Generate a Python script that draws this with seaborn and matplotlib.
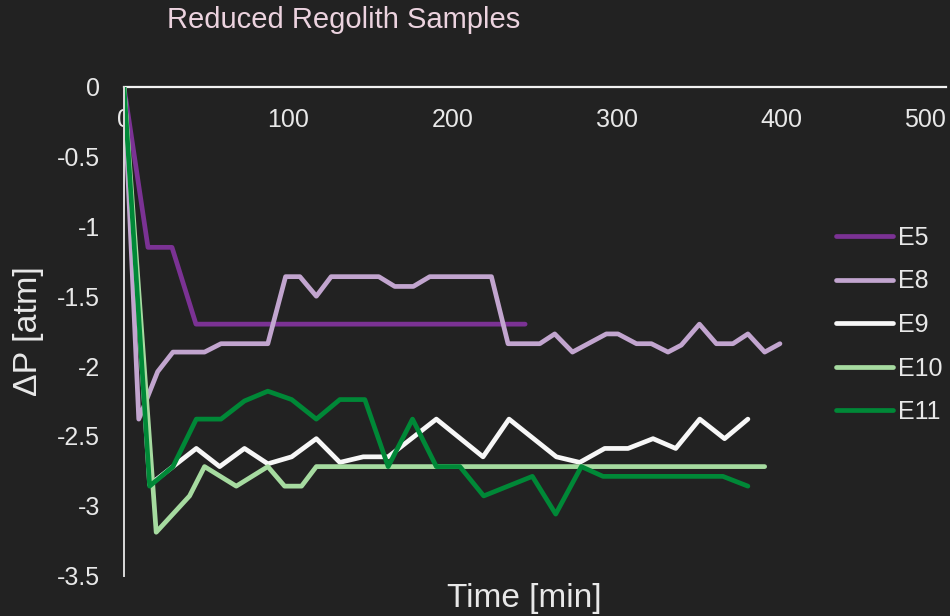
import matplotlib
matplotlib.use("Agg")
import matplotlib.pyplot as plt
import pandas as pd
import seaborn as sns

# Pressure drop in the sealed chamber for each reduced regolith sample
e5_t = [0, 14.6, 29.2, 43.8, 244]
e5_p = [0, -1.15, -1.15, -1.70, -1.70]

e8_t = [0, 9, 20.5, 29.8, 49, 59, 87.5, 98.3, 107, 117, 126, 155, 164.7, 176, 186,
        223.5, 233.6, 252.9, 262, 272.8, 293.4, 300.5, 311.7, 320.8, 330.9, 339,
        350, 360.3, 370.4, 379.5, 389.7, 399]
e8_p = [0, -2.38, -2.04, -1.90, -1.90, -1.84, -1.84, -1.36, -1.36, -1.50, -1.36,
        -1.36, -1.43, -1.43, -1.36, -1.36, -1.84, -1.84, -1.77, -1.90, -1.77, -1.77,
        -1.84, -1.84, -1.90, -1.85, -1.70, -1.84, -1.84, -1.77, -1.90, -1.84]

e9_t = [0, 15.6, 29.8, 44, 58.2, 73.3, 87.5, 102, 117, 131.3, 145.5, 160.7, 190,
        218.4, 234.2, 263, 277.2, 292.4, 306.6, 321.8, 335.6, 350.2, 365.3, 379.5]
e9_p = [0, -2.85, -2.72, -2.59, -2.72, -2.59, -2.70, -2.65, -2.52, -2.69, -2.65,
        -2.65, -2.38, -2.65, -2.38, -2.65, -2.69, -2.59, -2.59, -2.52, -2.59, -2.38,
        -2.52, -2.38]

e10_t = [0, 19.6, 39.9, 49, 68.3, 87.5, 97.7, 108, 117, 389.7]
e10_p = [0, -3.19, -2.93, -2.72, -2.86, -2.72, -2.86, -2.86, -2.72, -2.72]

e11_t = [0, 15.6, 29.8, 44, 59, 73.3, 87.5, 102, 117, 131.3, 146.5, 160.7, 175.5,
         190, 204.3, 218.8, 233.6, 248.4, 262.6, 278.2, 291.4, 364.3, 379.5]
e11_p = [0, -2.86, -2.72, -2.38, -2.38, -2.25, -2.18, -2.24, -2.38, -2.24, -2.24,
         -2.72, -2.38, -2.72, -2.72, -2.93, -2.86, -2.79, -3.06, -2.72, -2.79, -2.79,
         -2.86]

samples = ["E5", "E8", "E9", "E10", "E11"]
colors = ["#7b3294", "#c2a5cf", "#f7f7f7", "#a6dba0", "#008837"]

frames = []
for name, t, p in zip(samples, [e5_t, e8_t, e9_t, e10_t, e11_t],
                      [e5_p, e8_p, e9_p, e10_p, e11_p]):
    frames.append(pd.DataFrame({"Time": t, "dP": p, "Sample": name}))
df = pd.concat(frames, ignore_index=True)

bg = "#222222"
fg = "#e8e8e8"

sns.set_theme(style="dark")
plt.rcParams["font.family"] = ["Liberation Sans", "DejaVu Sans"]

fig = plt.figure(figsize=(9.5, 6.16), dpi=100, facecolor=bg)
ax = fig.add_axes([0.1305, 0.0657, 0.8653, 0.7935])
ax.set_facecolor(bg)

sns.lineplot(data=df, x="Time", y="dP", hue="Sample", hue_order=samples,
             palette=colors, estimator=None, sort=False, linewidth=3.4,
             ax=ax, legend=False)
for line in ax.get_lines():
    line.set_solid_capstyle("round")
    line.set_solid_joinstyle("round")

ax.set_xlim(0, 500)
ax.set_ylim(-3.5, 0)
ax.set_xticks([0, 100, 200, 300, 400, 500])
ax.set_yticks([0, -0.5, -1, -1.5, -2, -2.5, -3, -3.5])
ax.set_yticklabels(["0", "-0.5", "-1", "-1.5", "-2", "-2.5", "-3", "-3.5"])
ax.grid(False)

for side in ["top", "right"]:
    ax.spines[side].set_visible(False)
ax.spines["bottom"].set_position(("data", 0))
ax.spines["bottom"].set_color("#f2f2f2")
ax.spines["bottom"].set_linewidth(1.6)
ax.spines["left"].set_color("#d9d9d9")
ax.spines["left"].set_linewidth(1.4)
ax.spines["bottom"].set_zorder(0.5)

ax.tick_params(axis="x", length=0, pad=15.4, labelsize=18, labelcolor=fg)
ax.tick_params(axis="y", length=0, pad=17, labelsize=18, labelcolor=fg)
ax.set_xlabel("")
ax.set_ylabel("")
# keep the last x label inside the figure
ax.get_xticklabels()[-1].set_horizontalalignment("right")

fig.text(344 / 950, 1 - 20 / 616, "Reduced Regolith Samples", ha="center",
         va="center", fontsize=21, color="#ecd3df")
fig.text(28 / 950, 1 - 331 / 616, "ΔP [atm]", rotation=90, ha="center",
         va="center", fontsize=24.5, color=fg)
fig.text(524 / 950, 1 - 599 / 616, "Time [min]", ha="center", va="center",
         fontsize=24, color=fg)

handles = ax.get_lines()[:5]
leg = ax.legend(handles, samples, loc="center left",
                bbox_to_anchor=(836 / 950, 1 - 325 / 616),
                bbox_transform=fig.transFigure, frameon=False, fontsize=18,
                handlelength=2.28, handletextpad=0.2, labelspacing=0.78,
                borderpad=0, borderaxespad=0)
for txt in leg.get_texts():
    txt.set_color(fg)

fig.savefig("out.png", dpi=100, facecolor=bg)
